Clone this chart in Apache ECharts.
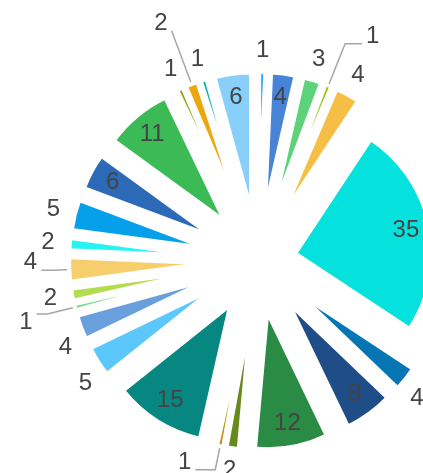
<!DOCTYPE html>
<html><head><meta charset="utf-8">
<script src="https://cdn.jsdelivr.net/npm/echarts@6/dist/echarts.min.js"></script>
<style>html,body{margin:0;padding:0;background:#fff}#chart{width:423px;height:473px}</style>
</head><body><div id="chart"></div>
<script>
// ---- data ----
const values = [1, 4, 3, 1, 4, 35, 4, 8, 12, 2, 1, 15, 5, 4, 1, 2, 4, 2, 5, 6, 11, 1, 2, 1, 6];
const labels = values.map(String);

// ---- styles ----
const colors = ['#2fa4f0', '#4783d6', '#5dd27b', '#9cc31a', '#f5bf45', '#05e1dc', '#0576b3', '#1f4d87',
  '#2a8b45', '#678a1b', '#c88b12', '#068781', '#5bc7fb', '#6a9fde', '#78d98f', '#b4dc4e', '#f7ce6c',
  '#25f5f0', '#069fe9', '#2c69b6', '#3bba56', '#8aa81e', '#eba70d', '#10b5ad', '#88d0fb'];
// how far each slice is pulled out of the pie (px)
const pull = values.map(v => v === 35 ? 38 : 52);
// where each value label goes: inside the slice, outside, or outside with a leader line
const placement = ['out', 'in', 'out', 'line', 'out', 'in', 'out', 'in', 'in', 'out', 'line', 'in', 'out',
  'out', 'line', 'out', 'line', 'out', 'out', 'in', 'in', 'out', 'line', 'out', 'in'];
// leader line lengths and vertical nudge of the moved labels (negative = up)
const leader = {
  3: { length: 47, length2: 17, shift: -7 },
  10: { length: 26, length2: 20, shift: -7.5 },
  14: { length: 30, length2: 11, shift: 8.5 },
  16: { length: 17, length2: 13, shift: -7.5 },
  22: { length: 59, length2: 0, shift: -7.5 }
};
// small nudges of outside labels pushed aside to avoid crowding / the canvas edge
const nudge = { 6: [-6, 6], 12: [6, 10], 13: [5, 12] };

const CENTER = [258, 261];
const R0 = 137;
const font = { fontSize: 24, color: '#444', fontFamily: 'Liberation Sans, Arial, sans-serif' };
const clear = 'rgba(0,0,0,0)';

const base = {
  type: 'pie', center: CENTER, startAngle: 90, clockwise: true,
  avoidLabelOverlap: false, silent: true, animation: false,
  emphasis: { disabled: true }
};

const series = [];
const groups = [...new Set(pull)];
groups.forEach(g => {
  // slices
  series.push(Object.assign({}, base, {
    radius: R0,
    selectedMode: 'multiple',
    selectedOffset: g,
    itemStyle: { borderColor: '#fff', borderWidth: 4 },
    select: { itemStyle: { borderColor: '#fff', borderWidth: 4 }, label: { show: false } },
    label: { show: false }, labelLine: { show: false },
    data: values.map((v, i) => pull[i] === g
      ? { value: v, name: 's' + i, selected: true, itemStyle: { color: colors[i] } }
      : { value: v, name: 's' + i, selected: false, itemStyle: { color: clear, borderWidth: 0 } })
  }));
  // labels inside slices
  series.push(Object.assign({}, base, {
    radius: [g + 98, g + 122],
    itemStyle: { color: clear },
    label: Object.assign({ position: 'inside' }, font),
    labelLine: { show: false },
    data: values.map((v, i) => ({ value: v, name: 'in' + i,
      label: { show: pull[i] === g && placement[i] === 'in', formatter: labels[i] } }))
  }));
  // labels outside slices
  series.push(Object.assign({}, base, {
    radius: [g + 144, g + 168],
    itemStyle: { color: clear },
    label: Object.assign({ position: 'inside' }, font),
    labelLine: { show: false },
    labelLayout: p => nudge[p.dataIndex] ? { dx: nudge[p.dataIndex][0], dy: nudge[p.dataIndex][1] } : {},
    data: values.map((v, i) => ({ value: v, name: 'out' + i,
      label: { show: pull[i] === g && placement[i] === 'out', formatter: labels[i] } }))
  }));
  // labels with leader lines
  series.push(Object.assign({}, base, {
    radius: g + R0 - 2,
    itemStyle: { color: clear },
    label: Object.assign({ position: 'outside', distanceToLabelLine: 4 }, font),
    labelLine: { show: true, lineStyle: { color: '#a6a6a6', width: 1.5 } },
    data: values.map((v, i) => {
      const on = pull[i] === g && placement[i] === 'line';
      const l = leader[i] || { length: 10, length2: 10, shift: 0 };
      const txt = l.shift < 0 ? labels[i] + '\n' : (l.shift > 0 ? '\n' + labels[i] : labels[i]);
      return { value: v, name: 'line' + i,
        label: { show: on, formatter: txt, lineHeight: Math.max(2 * Math.abs(l.shift), 1) },
        labelLine: { show: on, length: l.length, length2: l.length2 } };
    })
  }));
});

const chart = echarts.init(document.getElementById('chart'), null, { renderer: 'canvas' });
chart.setOption({ animation: false, backgroundColor: '#fff', series: series });
</script>
</body></html>
